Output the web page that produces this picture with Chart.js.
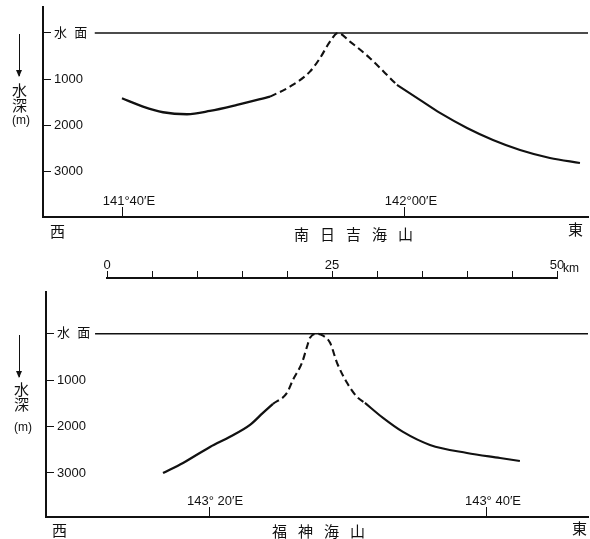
<!DOCTYPE html>
<html>
<head>
<meta charset="utf-8">
<script src="https://cdn.jsdelivr.net/npm/chart.js@4/dist/chart.umd.min.js"></script>
<style>
  body { margin: 0; background: #fff; width: 590px; height: 539px; position: relative; overflow: hidden;
         font-family: "Noto Sans CJK JP", sans-serif; color: #111; }
  canvas { position: absolute; left: 0; }
  .t { position: absolute; line-height: 1; white-space: nowrap; font-size: 15px; }
  .arrow { position: absolute; width: 0; border-left: 1px solid #111; }
  .arrow:after { content: ''; position: absolute; left: -4px; bottom: -1px; width: 0; height: 0;
                 border-left: 3.5px solid transparent; border-right: 3.5px solid transparent; border-top: 7px solid #111; }
</style>
</head>
<body>
<canvas id="top" width="590" height="245" style="top:0"></canvas>
<canvas id="bar" width="590" height="40" style="top:250px"></canvas>
<canvas id="bottom" width="590" height="249" style="top:290px"></canvas>

<!-- vertical axis captions -->
<div class="arrow" style="left:19px;top:34px;height:42px"></div>
<div class="t" style="left:12px;top:82px">水</div>
<div class="t" style="left:12px;top:97px">深</div>
<div class="t" style="left:12px;top:114px;font-size:12px;font-family:'Liberation Sans'">(m)</div>
<div class="arrow" style="left:19px;top:335px;height:42px"></div>
<div class="t" style="left:14px;top:381px">水</div>
<div class="t" style="left:14px;top:396px">深</div>
<div class="t" style="left:14px;top:421px;font-size:12px;font-family:'Liberation Sans'">(m)</div>

<div class="t" style="left:50px;top:223px">西</div>
<div class="t" style="left:568px;top:221px">東</div>
<div class="t" style="left:294px;top:226px;letter-spacing:11px">南日吉海山</div>

<div class="t" style="left:52px;top:522px">西</div>
<div class="t" style="left:572px;top:520px">東</div>
<div class="t" style="left:272px;top:523px;letter-spacing:11px">福神海山</div>

<div class="t" style="left:563px;top:262px;font-size:12px;font-family:'Liberation Sans'">km</div>

<script>
// 南日吉海山 : x = minutes of longitude past 141°E, y = depth (m)
const topWestLon = [39.93, 41.42, 42.84, 44.54, 46.17, 48.09, 50.43];
const topWestDepth = [1410, 1591, 1713, 1756, 1685, 1555, 1376];
const topDashLon = [50.43, 51.84, 53.26, 53.97, 54.68, 55.25, 56.10, 57.52, 58.58, 59.43];
const topDashDepth = [1376, 1160, 836, 546, 188, 0, 188, 546, 864, 1123];
const topEastLon = [59.43, 61.06, 62.48, 64.40, 66.24, 68.16, 70.28, 72.41];
const topEastDepth = [1123, 1447, 1728, 2052, 2311, 2527, 2700, 2808];
const topSurfaceLon = [38.0, 72.98];
const topLonTicks = [40, 60];

// 福神海山 : x = minutes of longitude past 143°E, y = depth (m)
const botWestLon = [16.69, 18.13, 20.07, 21.51, 22.95, 23.88, 24.60];
const botWestDepth = [3002, 2786, 2441, 2220, 1965, 1706, 1512];
const botDashLon = [24.60, 25.61, 26.04, 26.69, 27.05, 27.27, 27.77, 28.20, 28.71, 29.21, 29.93, 30.65, 31.22];
const botDashDepth = [1512, 1274, 994, 626, 281, 86, 0, 43, 194, 626, 1058, 1361, 1490];
const botEastLon = [31.22, 32.52, 33.96, 35.90, 38.56, 40.94, 42.37];
const botEastDepth = [1490, 1814, 2117, 2397, 2570, 2678, 2743];
const botSurfaceLon = [11.8, 47.27];
const botLonTicks = [20, 40];

const depthTicks = [0, 1000, 2000, 3000];
const scaleTicks = [0, 5, 10, 15, 20, 25, 30, 35, 40, 45, 50];
const scaleLabels = { 0: '0', 25: '25', 50: '50' };

const ink = '#111';
const tickFont = { family: "'Liberation Sans', 'Noto Sans CJK JP'", size: 13 };

function pts(xs, ys) {
  return xs.map((x, i) => ({ x: x, y: ys[i] }));
}

function lonLabel(deg, gap, minutes) {
  const d = deg + Math.floor(minutes / 60);
  const m = String(minutes % 60).padStart(2, '0');
  return d + '°' + gap + m + '′E';
}

function profile(id, o) {
  const line = (data, dash, width) => ({
    data: data, borderColor: ink, borderWidth: width, borderDash: dash,
    pointRadius: 0, cubicInterpolationMode: 'monotone', fill: false
  });
  new Chart(document.getElementById(id), {
    type: 'line',
    data: {
      datasets: [
        line(pts(o.surface, [0, 0]), [], 1.5),
        line(pts(o.westLon, o.westDepth), [], 2.3),
        line(pts(o.dashLon, o.dashDepth), [7, 4], 2.1),
        line(pts(o.eastLon, o.eastDepth), [], 2.1)
      ]
    },
    options: {
      responsive: false,
      animation: false,
      layout: { padding: o.pad },
      plugins: { legend: { display: false }, tooltip: { enabled: false } },
      scales: {
        x: {
          type: 'linear', min: o.xmin, max: o.xmax,
          afterBuildTicks: s => { s.ticks = o.lonTicks.map(v => ({ value: v })); },
          afterFit: s => { s.height = 0; s.paddingLeft = 0; s.paddingRight = 0; },
          grid: { drawOnChartArea: false, tickLength: -10, color: ink, lineWidth: 1 },
          border: { color: ink, width: 2 },
          ticks: {
            color: ink, font: tickFont, mirror: true, padding: 8, labelOffset: 6, maxRotation: 0, autoSkip: false,
            callback: v => lonLabel(o.deg, o.gap, v)
          }
        },
        y: {
          type: 'linear', reverse: true, min: o.ymin, max: o.ymax,
          afterBuildTicks: s => { s.ticks = depthTicks.map(v => ({ value: v })); },
          afterFit: s => { s.width = 0; s.paddingTop = 0; s.paddingBottom = 0; },
          grid: { drawOnChartArea: false, tickLength: -8, color: ink, lineWidth: 1 },
          border: { color: ink, width: 2 },
          ticks: {
            color: ink, font: tickFont, mirror: true, padding: 11,
            callback: v => v === 0 ? '水  面' : String(v)
          }
        }
      }
    }
  });
}

profile('top', {
  westLon: topWestLon, westDepth: topWestDepth,
  dashLon: topDashLon, dashDepth: topDashDepth,
  eastLon: topEastLon, eastDepth: topEastDepth,
  surface: topSurfaceLon, lonTicks: topLonTicks,
  deg: 141, gap: '', xmin: 34.33, xmax: 72.98, ymin: -560, ymax: 3975,
  pad: { left: 43, right: 2, top: 7, bottom: 28 }
});

profile('bottom', {
  westLon: botWestLon, westDepth: botWestDepth,
  dashLon: botDashLon, dashDepth: botDashDepth,
  eastLon: botEastLon, eastDepth: botEastDepth,
  surface: botSurfaceLon, lonTicks: botLonTicks,
  deg: 143, gap: ' ', xmin: 8.27, xmax: 47.27, ymin: -900, ymax: 3950,
  pad: { left: 46, right: 2, top: 2, bottom: 22 }
});

// 50 km scale bar
new Chart(document.getElementById('bar'), {
  type: 'scatter',
  data: { datasets: [{ data: [] }] },
  options: {
    responsive: false,
    animation: false,
    layout: { padding: { left: 107, right: 33, top: 0, bottom: 10 } },
    plugins: { legend: { display: false }, tooltip: { enabled: false } },
    scales: {
      x: {
        type: 'linear', position: 'top', min: 0, max: 50,
        afterBuildTicks: s => { s.ticks = scaleTicks.map(v => ({ value: v })); },
        afterFit: s => { s.height = 28; },
        grid: { drawOnChartArea: false, tickLength: 7, color: ink, lineWidth: 1 },
        border: { color: ink, width: 2 },
        ticks: {
          color: ink, font: tickFont, padding: -2, maxRotation: 0, autoSkip: false,
          callback: v => scaleLabels[v] || ''
        }
      },
      y: { display: false }
    }
  }
});
</script>
</body>
</html>
